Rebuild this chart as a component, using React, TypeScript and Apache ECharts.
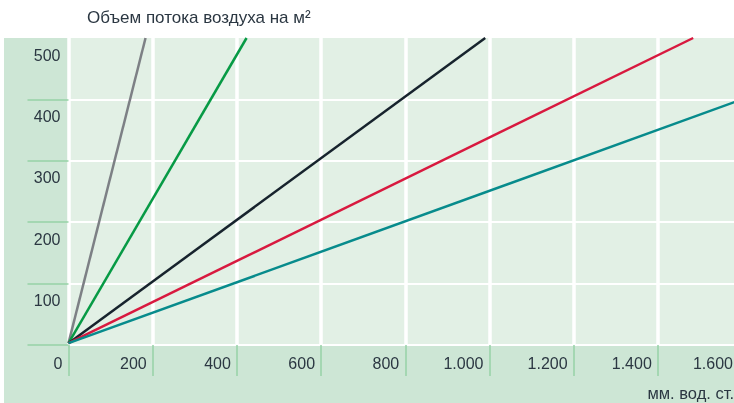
import React, { useEffect, useRef } from "react";
import * as echarts from "echarts";

const titleText = "Объем потока воздуха на м²";
const xUnit = "мм. вод. ст.";
const xTicks = [0, 200, 400, 600, 800, 1000, 1200, 1400, 1600];
const yTickValues = [0, 100, 200, 300, 400];
const yLabelValues = [100, 200, 300, 400, 500];

const grayLine = [[0, 3], [183, 500]];
const greenLine = [[0, 3], [423, 500]];
const blackLine = [[0, 3], [990, 500]];
const redLine = [[0, 3], [1484, 500]];
const tealLine = [[0, 3], [1600, 400]];

const seriesDefs = [
  { name: "gray", data: grayLine, color: "#7d8085" },
  { name: "green", data: greenLine, color: "#079a45" },
  { name: "black", data: blackLine, color: "#17232d" },
  { name: "red", data: redLine, color: "#d8193f" },
  { name: "teal", data: tealLine, color: "#078b8c" },
];

const textColor = "#2b3742";
const tickGreen = "#96d2a6";
const font = "'Liberation Sans', Arial, sans-serif";

function fmt(v: number) {
  return String(v).replace(/\B(?=(\d{3})+(?!\d))/g, ".");
}

export default function App() {
  const ref = useRef<HTMLDivElement>(null);
  useEffect(() => {
    if (!ref.current) return;
    const chart = echarts.init(ref.current, null, { renderer: "svg" });
    const lastX = xTicks[xTicks.length - 1];
    chart.setOption({
      animation: false,
      textStyle: { fontFamily: font },
      grid: {
        left: 68.5,
        top: 38,
        width: 673.5,
        height: 307,
        show: true,
        backgroundColor: "#e2f0e5",
        borderWidth: 0,
        containLabel: false,
        outerBoundsMode: "none",
      },
      graphic: [
        {
          type: "rect",
          z: -10,
          shape: { x: 4, y: 38, width: 730, height: 365 },
          style: { fill: "#cde6d5" },
        },
        {
          type: "text",
          left: 87,
          top: 9,
          style: { text: titleText, font: `17px ${font}`, fill: textColor },
        },
        {
          type: "text",
          right: 0,
          top: 384,
          style: { text: xUnit, font: `16.5px ${font}`, fill: textColor },
        },
      ],
      xAxis: {
        type: "value",
        min: 0,
        max: 1600,
        interval: 200,
        axisLine: { show: false },
        axisTick: {
          show: true,
          length: 31,
          lineStyle: { color: tickGreen, width: 1.5 },
        },
        splitLine: { show: true, lineStyle: { color: "#ffffff", width: 3.5 } },
        axisLabel: {
          customValues: xTicks,
          formatter: (v: number) =>
            v === lastX ? `{e|${fmt(v)}}` : fmt(v),
          rich: {
            e: {
              padding: [0, 3, 0, 0],
              fontSize: 16,
              color: textColor,
              fontFamily: font,
            },
          },
          align: "right",
          padding: [0, 6, 0, 0],
          margin: 10,
          fontSize: 16,
          color: textColor,
          fontFamily: font,
        },
      },
      yAxis: {
        type: "value",
        min: 0,
        max: 500,
        interval: 100,
        axisLine: { show: false },
        axisTick: {
          show: true,
          length: 41,
          customValues: yTickValues,
          lineStyle: { color: tickGreen, width: 1.5 },
        },
        splitLine: { show: true, lineStyle: { color: "#ffffff", width: 2 } },
        axisLabel: {
          customValues: yLabelValues,
          verticalAlign: "top",
          padding: [9, 0, 0, 0],
          margin: 8,
          fontSize: 16,
          color: textColor,
          fontFamily: font,
        },
      },
      series: seriesDefs.map((s) => ({
        type: "line",
        name: s.name,
        data: s.data,
        showSymbol: false,
        clip: true,
        lineStyle: { color: s.color, width: 2.5 },
        itemStyle: { color: s.color },
      })),
    });
    return () => chart.dispose();
  }, []);
  return (
    <div
      ref={ref}
      style={{ position: "fixed", left: 0, top: 0, width: 734, height: 403 }}
    />
  );
}
